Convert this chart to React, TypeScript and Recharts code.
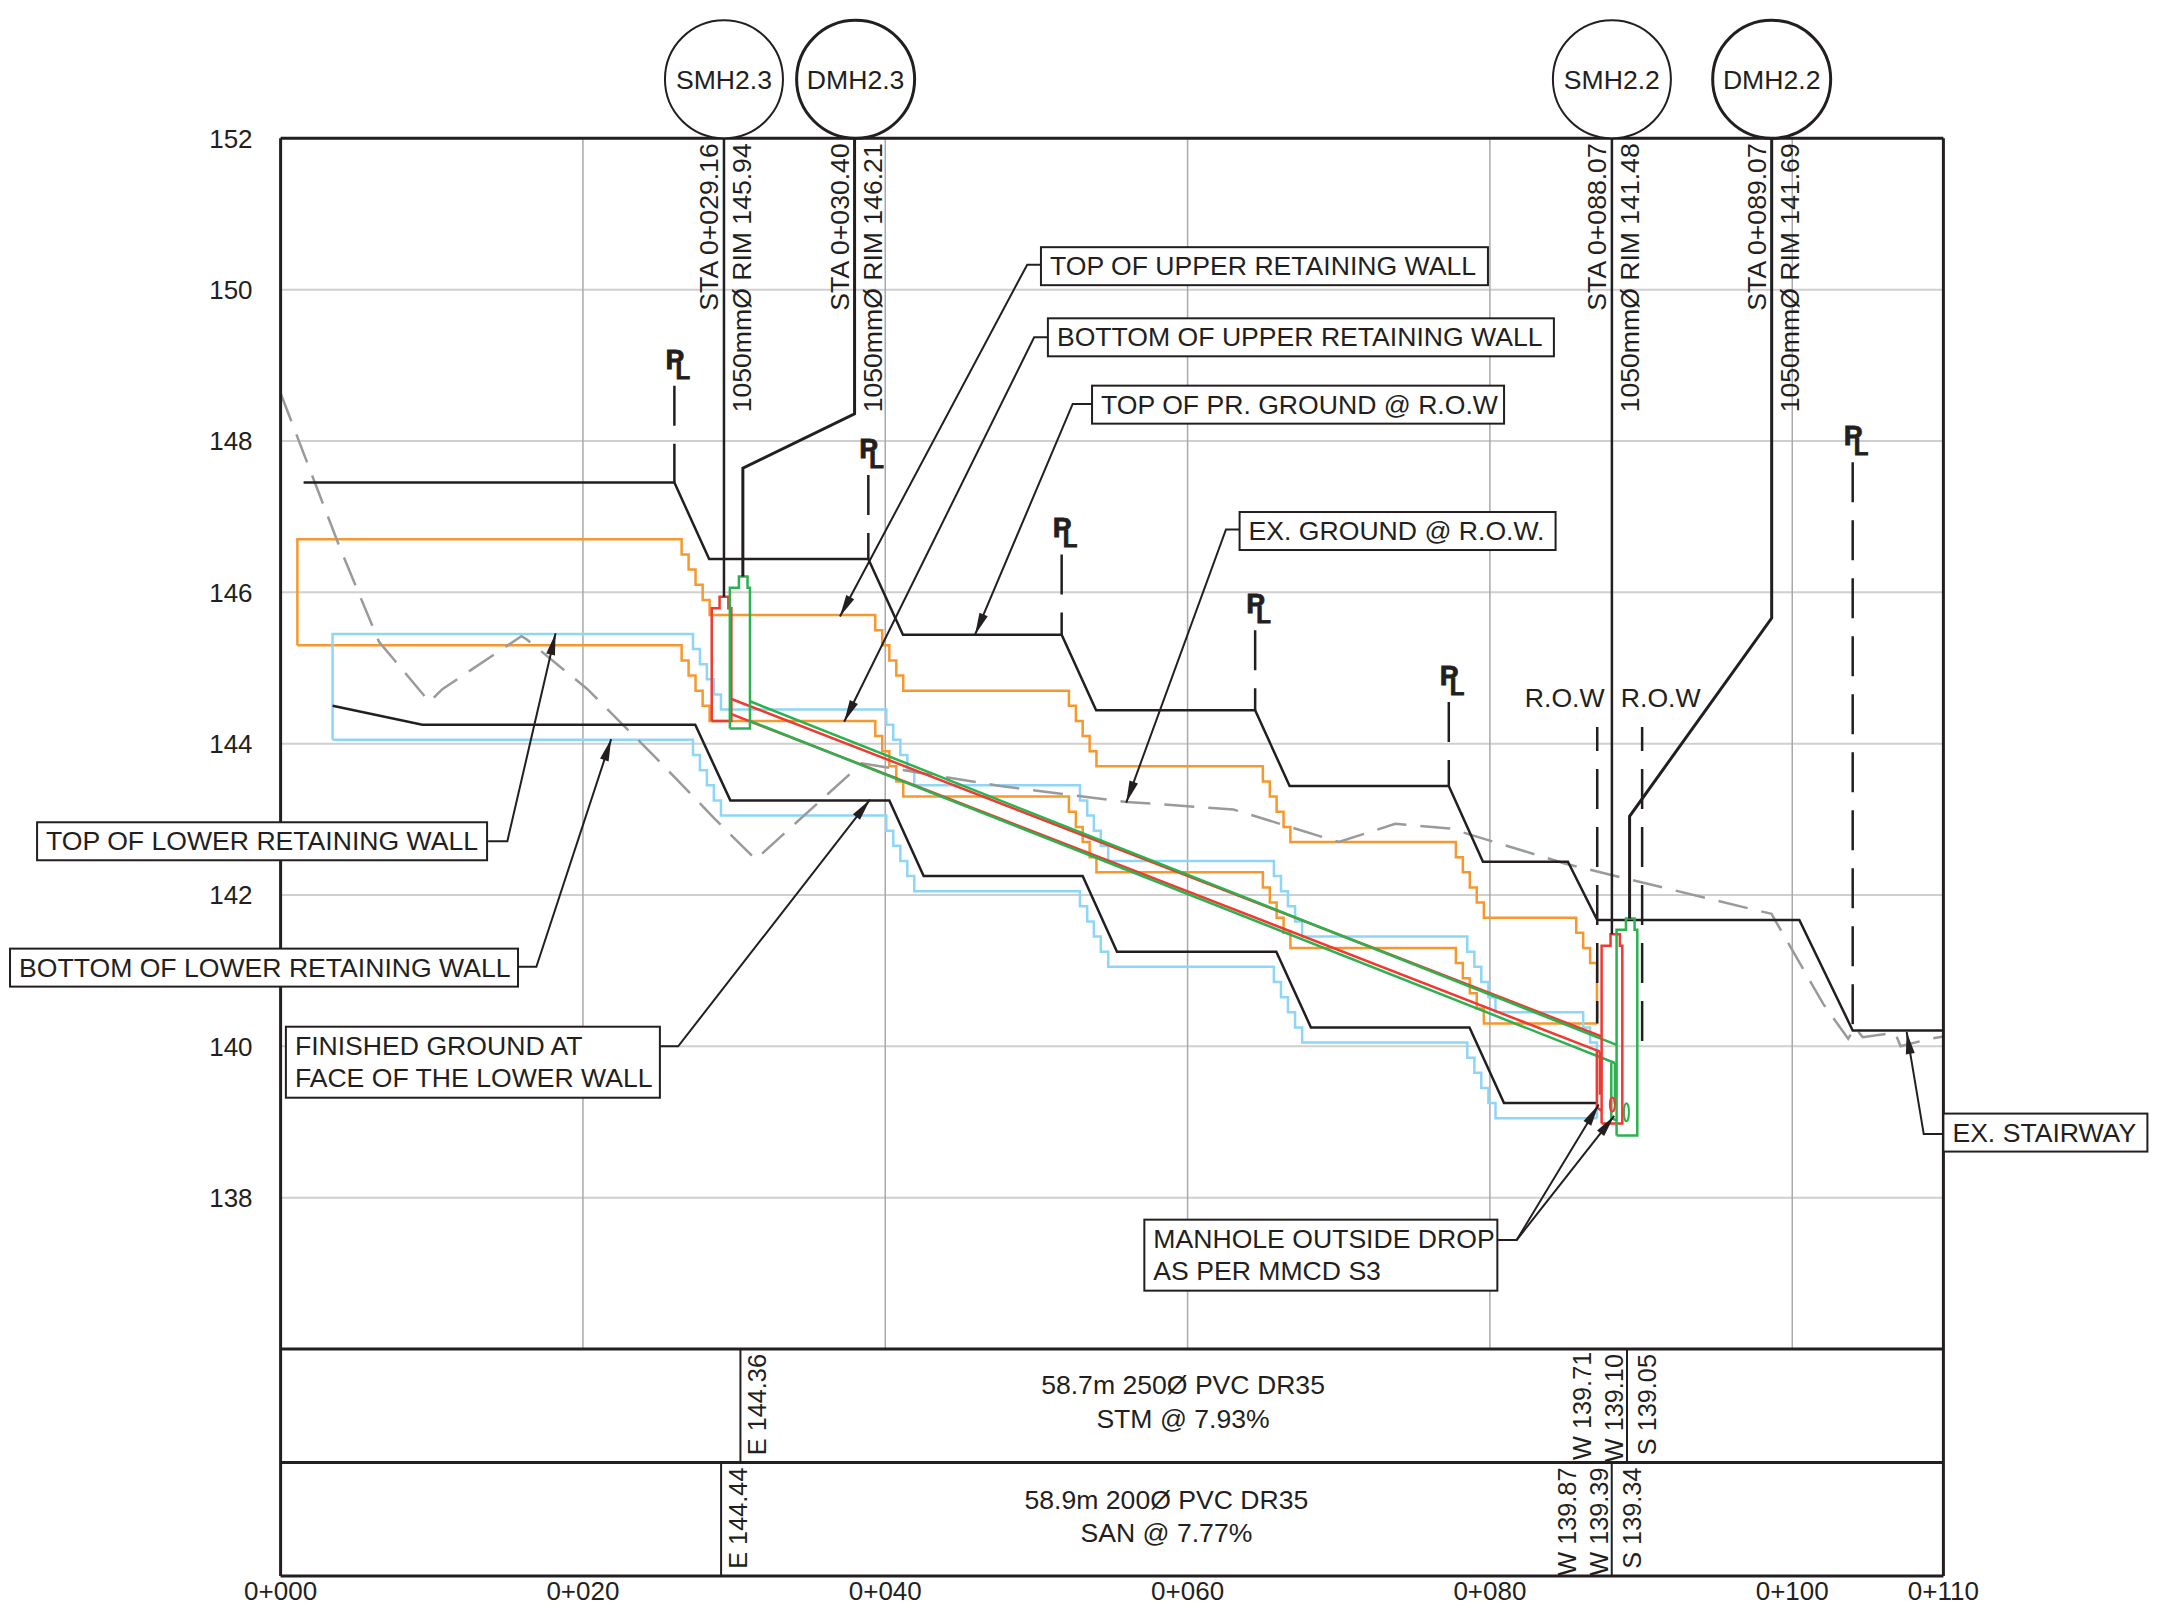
import React from 'react';
import { ComposedChart, Line, XAxis, YAxis, CartesianGrid, ReferenceLine, ReferenceDot } from 'recharts';

type Pt = [number, number];

const FONT = '"Liberation Sans", Arial, sans-serif';
const INK = '#231f20';
const ORANGE = '#f7982f';
const BLUE = '#8ed6f7';
const RED = '#ee3a32';
const GREEN = '#2bb24f';

const stationTicks = [0, 20, 40, 60, 80, 100, 110];
const leftElevationTicks = [138, 140, 142, 144, 146, 148, 150, 152];
const rightElevationTicks = [136, 138, 140, 142, 144, 146, 148, 150, 152];
const stationGrid = [20, 40, 60, 80, 100];
const tableLevels = [152, 136, 134.5, 133];

// finished ground along the property line and at the lower wall
const topOfGround: Pt[] = [
  [1.52, 147.45], [26.05, 147.45], [28.35, 146.44], [38.88, 146.44], [41.17, 145.44], [51.67, 145.44],
  [53.95, 144.44], [64.47, 144.44], [66.75, 143.44], [77.28, 143.44], [79.54, 142.44], [85.16, 142.44],
  [87.1, 141.67], [100.47, 141.67], [104, 140.21], [110, 140.21],
];
const faceOfLowerWall: Pt[] = [
  [3.44, 144.5], [9.38, 144.25], [27.43, 144.25], [29.75, 143.25], [40.27, 143.25], [42.54, 142.25],
  [53.06, 142.25], [55.33, 141.25], [65.87, 141.25], [68.16, 140.25], [78.65, 140.25], [80.93, 139.25], [87.1, 139.25],
];
const exGround: Pt[] = [
  [0, 148.63], [3.9, 146.6], [6.5, 145.35], [9.85, 144.55], [10.7, 144.72], [15.93, 145.42], [16.27, 145.38],
  [20.3, 144.72], [25.04, 143.77], [28.75, 143.0], [31.43, 142.47], [38.44, 143.74], [47.6, 143.44], [55.94, 143.23],
  [63.03, 143.13], [70, 142.7], [73.74, 142.94], [77.34, 142.88], [85.06, 142.41], [87.3, 142.3], [98.63, 141.75],
  [102.05, 140.56], [103.7, 140.1], [104.15, 140.25], [104.66, 140.12], [106.8, 140.18], [107.17, 140.0], [109.1, 140.1], [110, 140.13],
];

const upperWallTop: Pt[] = [
  [1.11, 145.3], [1.11, 146.7], [26.53, 146.7], [26.53, 146.5], [26.99, 146.5], [26.99, 146.3], [27.45, 146.3], [27.45, 146.1],
  [27.92, 146.1], [27.92, 145.9], [28.38, 145.9], [28.38, 145.7], [39.34, 145.7], [39.34, 145.5], [39.8, 145.5], [39.8, 145.3],
  [40.27, 145.3], [40.27, 145.1], [40.73, 145.1], [40.73, 144.9], [41.19, 144.9], [41.19, 144.7], [52.15, 144.7], [52.15, 144.5],
  [52.61, 144.5], [52.61, 144.3], [53.06, 144.3], [53.06, 144.1], [53.52, 144.1], [53.52, 143.9], [53.97, 143.9], [53.97, 143.7],
  [64.98, 143.7], [64.98, 143.5], [65.44, 143.5], [65.44, 143.3], [65.89, 143.3], [65.89, 143.1], [66.35, 143.1], [66.35, 142.9],
  [66.8, 142.9], [66.8, 142.7], [77.75, 142.7], [77.75, 142.5], [78.21, 142.5], [78.21, 142.3], [78.67, 142.3], [78.67, 142.1],
  [79.13, 142.1], [79.13, 141.9], [79.6, 141.9], [79.6, 141.7], [85.71, 141.7], [85.71, 141.5], [86.17, 141.5], [86.17, 141.3],
  [86.63, 141.3], [86.63, 141.1], [87.08, 141.1], [87.08, 140.3],
];
const upperWallBottom: Pt[] = [
  [1.11, 145.3], [26.53, 145.3], [26.53, 145.1], [26.99, 145.1], [26.99, 144.9], [27.45, 144.9], [27.45, 144.7], [27.92, 144.7],
  [27.92, 144.5], [28.38, 144.5], [28.38, 144.3], [39.34, 144.3], [39.34, 144.1], [39.8, 144.1], [39.8, 143.9], [40.27, 143.9],
  [40.27, 143.7], [40.73, 143.7], [40.73, 143.5], [41.19, 143.5], [41.19, 143.3], [52.15, 143.3], [52.15, 143.1], [52.61, 143.1],
  [52.61, 142.9], [53.06, 142.9], [53.06, 142.7], [53.52, 142.7], [53.52, 142.5], [53.97, 142.5], [53.97, 142.3], [64.98, 142.3],
  [64.98, 142.1], [65.44, 142.1], [65.44, 141.9], [65.89, 141.9], [65.89, 141.7], [66.35, 141.7], [66.35, 141.5], [66.8, 141.5],
  [66.8, 141.3], [77.75, 141.3], [77.75, 141.1], [78.21, 141.1], [78.21, 140.9], [78.67, 140.9], [78.67, 140.7], [79.13, 140.7],
  [79.13, 140.5], [79.6, 140.5], [79.6, 140.3], [87.08, 140.3],
];
const lowerWallTop: Pt[] = [
  [3.44, 144.05], [3.44, 145.45], [27.28, 145.45], [27.28, 145.25], [27.74, 145.25], [27.74, 145.05], [28.2, 145.05], [28.2, 144.85],
  [28.66, 144.85], [28.66, 144.65], [29.13, 144.65], [29.13, 144.45], [40.07, 144.45], [40.07, 144.25], [40.53, 144.25], [40.53, 144.05],
  [41, 144.05], [41, 143.85], [41.46, 143.85], [41.46, 143.65], [41.92, 143.65], [41.92, 143.45], [52.88, 143.45], [52.88, 143.25],
  [53.36, 143.25], [53.36, 143.05], [53.8, 143.05], [53.8, 142.85], [54.26, 142.85], [54.26, 142.65], [54.75, 142.65], [54.75, 142.45],
  [65.71, 142.45], [65.71, 142.25], [66.18, 142.25], [66.18, 142.05], [66.64, 142.05], [66.64, 141.85], [67.11, 141.85], [67.11, 141.65],
  [67.58, 141.65], [67.58, 141.45], [78.5, 141.45], [78.5, 141.25], [78.97, 141.25], [78.97, 141.05], [79.43, 141.05], [79.43, 140.85],
  [79.9, 140.85], [79.9, 140.65], [80.37, 140.65], [80.37, 140.45], [86.17, 140.45], [86.17, 140.25], [86.63, 140.25], [86.63, 140.05],
  [87.08, 140.05], [87.08, 139.05],
];
const lowerWallBottom: Pt[] = [
  [3.44, 144.05], [27.28, 144.05], [27.28, 143.85], [27.74, 143.85], [27.74, 143.65], [28.2, 143.65], [28.2, 143.45], [28.66, 143.45],
  [28.66, 143.25], [29.13, 143.25], [29.13, 143.05], [40.07, 143.05], [40.07, 142.85], [40.53, 142.85], [40.53, 142.65], [41, 142.65],
  [41, 142.45], [41.46, 142.45], [41.46, 142.25], [41.92, 142.25], [41.92, 142.05], [52.88, 142.05], [52.88, 141.85], [53.36, 141.85],
  [53.36, 141.65], [53.8, 141.65], [53.8, 141.45], [54.26, 141.45], [54.26, 141.25], [54.75, 141.25], [54.75, 141.05], [65.71, 141.05],
  [65.71, 140.85], [66.18, 140.85], [66.18, 140.65], [66.64, 140.65], [66.64, 140.45], [67.11, 140.45], [67.11, 140.25], [67.58, 140.25],
  [67.58, 140.05], [78.5, 140.05], [78.5, 139.85], [78.97, 139.85], [78.97, 139.65], [79.43, 139.65], [79.43, 139.45], [79.9, 139.45],
  [79.9, 139.25], [80.37, 139.25], [80.37, 139.05], [87.08, 139.05],
];

// sanitary (red) and storm (green) pipes and manholes
const sanPipeTop: Pt[] = [[29.82, 144.59], [87.39, 140.13]];
const sanPipeBottom: Pt[] = [[29.82, 144.39], [87.28, 139.93]];
const stmPipeTop: Pt[] = [[31.05, 144.56], [88.38, 140.02]];
const stmPipeBottom: Pt[] = [[31.05, 144.3], [88.27, 139.78]];
const smh23: Pt[] = [[28.52, 144.3], [28.52, 145.79], [29.04, 145.79], [29.04, 145.94], [29.62, 145.94], [29.62, 145.79], [29.82, 145.79], [29.82, 144.3], [28.52, 144.3]];
const dmh23: Pt[] = [[29.72, 144.2], [29.72, 146.06], [30.32, 146.06], [30.32, 146.21], [30.89, 146.21], [30.89, 146.06], [31.05, 146.06], [31.05, 144.2], [29.72, 144.2]];
const smh22: Pt[] = [[87.39, 138.98], [87.39, 141.33], [87.98, 141.33], [87.98, 141.48], [88.6, 141.48], [88.6, 141.33], [88.76, 141.33], [88.76, 138.98], [87.39, 138.98]];
const dmh22: Pt[] = [[88.38, 138.82], [88.38, 141.54], [89, 141.54], [89, 141.69], [89.57, 141.69], [89.57, 141.54], [89.75, 141.54], [89.75, 138.82], [88.38, 138.82]];
const sanDropOuter: Pt[] = [[87.08, 139.93], [87.08, 139.19], [87.39, 139.15]];
const sanDropInner: Pt[] = [[87.28, 139.93], [87.28, 139.36]];
const stmDropOuter: Pt[] = [[88.03, 139.78], [88.03, 139.05], [88.38, 139.02]];
const stmDropInner: Pt[] = [[88.27, 139.78], [88.27, 139.24]];

// manhole call-out lines coming down from the bubbles
const smh23Callout: Pt[] = [[29.33, 152], [29.33, 145.94]];
const dmh23Callout: Pt[] = [[37.97, 152], [37.97, 148.36], [30.58, 147.64], [30.58, 146.21]];
const smh22Callout: Pt[] = [[88.07, 152], [88.07, 141.48]];
const dmh22Callout: Pt[] = [[98.64, 152], [98.64, 145.66], [89.24, 143.04], [89.24, 141.69]];

// property line and right of way dashes
const propertyLines: Pt[][] = [
  [[26.05, 148.73], [26.05, 147.45]],
  [[38.88, 147.55], [38.88, 146.44]],
  [[51.67, 146.5], [51.67, 145.44]],
  [[64.47, 145.5], [64.47, 144.44]],
  [[77.28, 144.55], [77.28, 143.44]],
  [[104, 147.72], [104, 140.21]],
];
const rowLines: Pt[][] = [
  [[87.1, 144.22], [87.1, 140.3]],
  [[90.07, 144.22], [90.07, 139.99]],
];

// leaders of the boxed notes, the last point carries the arrow
const leaders: Pt[][] = [
  [[50.3, 150.33], [49.39, 150.33], [37.0, 145.68]],
  [[50.76, 149.37], [49.85, 149.37], [37.28, 144.29]],
  [[53.68, 148.49], [52.4, 148.49], [45.94, 145.44]],
  [[63.44, 146.83], [62.54, 146.83], [55.94, 143.22]],
  [[13.73, 142.71], [15.0, 142.71], [18.19, 145.46]],
  [[15.73, 141.05], [16.92, 141.05], [21.87, 144.06]],
  [[25.04, 140.0], [26.3, 140.0], [38.99, 143.26]],
  [[110, 138.84], [108.7, 138.84], [107.57, 140.19]],
  [[80.49, 137.44], [81.77, 137.44], [87.2, 139.23]],
  [[81.77, 137.44], [88.22, 139.08]],
];

const tableDividers: Pt[][] = [
  [[30.42, 136], [30.42, 134.5]],
  [[89.07, 136], [89.07, 134.5]],
  [[29.14, 134.5], [29.14, 133]],
  [[88.06, 134.5], [88.06, 133]],
];

const bubbles = [
  { name: 'SMH2.3', station: 29.33, heavy: false },
  { name: 'DMH2.3', station: 38.04, heavy: true },
  { name: 'SMH2.2', station: 88.07, heavy: false },
  { name: 'DMH2.2', station: 98.64, heavy: true },
];
const verticalNotes = [
  { text: 'STA 0+029.16', station: 29.33, level: 152, dx: -6, size: 26.6 },
  { text: '1050mmØ RIM 145.94', station: 29.33, level: 152, dx: 27, size: 26.6 },
  { text: 'STA 0+030.40', station: 37.97, level: 152, dx: -6, size: 26.6 },
  { text: '1050mmØ RIM 146.21', station: 37.97, level: 152, dx: 27, size: 26.6 },
  { text: 'STA 0+088.07', station: 88.07, level: 152, dx: -6, size: 26.6 },
  { text: '1050mmØ RIM 141.48', station: 88.07, level: 152, dx: 27, size: 26.6 },
  { text: 'STA 0+089.07', station: 98.64, level: 152, dx: -6, size: 26.6 },
  { text: '1050mmØ RIM 141.69', station: 98.64, level: 152, dx: 27, size: 26.6 },
  { text: 'E 144.36', station: 30.42, level: 136, dx: 26, size: 25.3 },
  { text: 'W 139.71', station: 89.07, level: 136.03, dx: -36, size: 25.3 },
  { text: 'W 139.10', station: 89.07, level: 136, dx: -4, size: 25.3 },
  { text: 'S 139.05', station: 89.07, level: 136, dx: 29, size: 25.3 },
  { text: 'E 144.44', station: 29.14, level: 134.5, dx: 26, size: 25.3 },
  { text: 'W 139.87', station: 88.06, level: 134.5, dx: -36, size: 25.3 },
  { text: 'W 139.39', station: 88.06, level: 134.5, dx: -4, size: 25.3 },
  { text: 'S 139.34', station: 88.06, level: 134.5, dx: 29, size: 25.3 },
];
const pipeNotes = [
  { text: '58.7m 250Ø PVC DR35', station: 59.7, level: 135.4 },
  { text: 'STM @ 7.93%', station: 59.7, level: 134.96 },
  { text: '58.9m 200Ø PVC DR35', station: 58.6, level: 133.88 },
  { text: 'SAN @ 7.77%', station: 58.6, level: 133.45 },
];
const rowNotes = [
  { text: 'R.O.W', station: 84.95, level: 144.48 },
  { text: 'R.O.W', station: 91.3, level: 144.48 },
];
const boxedNotes = [
  { lines: ['TOP OF UPPER RETAINING WALL'], station: 50.3, level: 150.31, w: 447 },
  { lines: ['BOTTOM OF UPPER RETAINING WALL'], station: 50.76, level: 149.37, w: 506 },
  { lines: ['TOP OF PR. GROUND @ R.O.W'], station: 53.68, level: 148.48, w: 412 },
  { lines: ['EX. GROUND @ R.O.W.'], station: 63.44, level: 146.81, w: 316 },
  { lines: ['TOP OF LOWER RETAINING WALL'], station: -16.11, level: 142.71, w: 450 },
  { lines: ['BOTTOM OF LOWER RETAINING WALL'], station: -17.9, level: 141.04, w: 508 },
  { lines: ['FINISHED GROUND AT', 'FACE OF THE LOWER WALL'], station: 0.35, level: 139.79, w: 374 },
  { lines: ['EX. STAIRWAY'], station: 110, level: 138.86, w: 204 },
  { lines: ['MANHOLE OUTSIDE DROP', 'AS PER MMCD S3'], station: 57.14, level: 137.24, w: 353 },
];
const dropOvals = [
  { station: 88.1, level: 139.23, color: RED, ry: 7 },
  { station: 89.03, level: 139.13, color: GREEN, ry: 9 },
];

const rows = (pts: Pt[]) => pts.map(([x, y]) => ({ x, y }));
const formatStation = (v: number) => `0+${String(v).padStart(3, '0')}`;

const ArrowDot = (props: any) => {
  const { cx, cy, index, points } = props;
  if (!points || index !== points.length - 1) return <g key={index} />;
  const prev = points[index - 1];
  const angle = (Math.atan2(cy - prev.y, cx - prev.x) * 180) / Math.PI;
  return <polygon key={index} points="0,0 -22,-4.5 -22,4.5" fill={INK} transform={`translate(${cx},${cy}) rotate(${angle})`} />;
};

const Series = (key: string, pts: Pt[], stroke: string, strokeWidth: number, extra: any = {}) => (
  <Line
    key={key}
    data={rows(pts)}
    dataKey="y"
    type="linear"
    stroke={stroke}
    strokeWidth={strokeWidth}
    dot={false}
    activeDot={false}
    legendType="none"
    isAnimationActive={false}
    {...extra}
  />
);

const Note = (key: string, station: number, level: number, shape: (cx: number, cy: number) => React.ReactElement) => (
  <ReferenceDot
    key={key}
    x={station}
    y={level}
    r={0}
    ifOverflow="visible"
    shape={(p: any) => shape(p.cx, p.cy)}
  />
);

const App = () => {
  const textProps = { fontFamily: FONT, fontSize: 26.6, fill: INK };
  const tickStyle = { fontFamily: FONT, fontSize: 26, fill: INK };
  return (
    <div style={{ position: 'absolute', left: 0, top: 0, width: 2162, height: 1619, background: '#fff' }}>
      <ComposedChart width={2162} height={1619} margin={{ top: 138.3, right: 138.6, bottom: 3, left: 200.6 }}>
        <CartesianGrid vertical={false} stroke="#cfcfcf" strokeWidth={2} />
        <XAxis
          dataKey="x"
          type="number"
          domain={[0, 110]}
          ticks={stationTicks}
          interval={0}
          tickFormatter={formatStation}
          axisLine={false}
          tickLine={false}
          tickSize={0}
          tickMargin={6}
          height={40}
          tick={tickStyle}
        />
        <YAxis
          type="number"
          domain={[133, 152]}
          ticks={leftElevationTicks}
          interval={0}
          width={80}
          axisLine={false}
          tickLine={false}
          tickSize={0}
          tickMargin={28}
          tick={tickStyle}
        />
        <YAxis
          yAxisId="right"
          orientation="right"
          type="number"
          domain={[133, 152]}
          ticks={rightElevationTicks}
          interval={0}
          width={80}
          axisLine={false}
          tickLine={false}
          tickSize={0}
          tickMargin={15}
          tick={tickStyle}
        />

        {stationGrid.map((st) => (
          <ReferenceLine key={`grid-${st}`} segment={[{ x: st, y: 136 }, { x: st, y: 152 }]} stroke="#a9a9ad" strokeWidth={1.5} />
        ))}

        {Series('upper-top', upperWallTop, ORANGE, 2.5)}
        {Series('upper-bottom', upperWallBottom, ORANGE, 2.5)}
        {Series('lower-top', lowerWallTop, BLUE, 2.5)}
        {Series('lower-bottom', lowerWallBottom, BLUE, 2.5)}
        {Series('ex-ground', exGround, '#9a9a9c', 2.5, { strokeDasharray: '30 14' })}
        {Series('top-ground', topOfGround, INK, 2.5)}
        {Series('face-wall', faceOfLowerWall, INK, 2.5)}

        {propertyLines.map((pts, i) => Series(`pl-${i}`, pts, INK, 2.5, { strokeDasharray: '40 18' }))}
        {rowLines.map((pts, i) => Series(`row-${i}`, pts, INK, 2.5, { strokeDasharray: '40 18', strokeDashoffset: 16 }))}

        {Series('san-top', sanPipeTop, RED, 2.5)}
        {Series('san-bottom', sanPipeBottom, RED, 2.5)}
        {Series('stm-top', stmPipeTop, GREEN, 2.5)}
        {Series('stm-bottom', stmPipeBottom, GREEN, 2.5)}
        {Series('smh23', smh23, RED, 2.5)}
        {Series('smh22', smh22, RED, 2.5)}
        {Series('dmh23', dmh23, GREEN, 2.5)}
        {Series('dmh22', dmh22, GREEN, 2.5)}
        {Series('san-drop-a', sanDropOuter, RED, 2.5)}
        {Series('san-drop-b', sanDropInner, RED, 2.5)}
        {Series('stm-drop-a', stmDropOuter, GREEN, 2.5)}
        {Series('stm-drop-b', stmDropInner, GREEN, 2.5)}

        {Series('smh23-call', smh23Callout, INK, 2.5)}
        {Series('dmh23-call', dmh23Callout, INK, 3)}
        {Series('smh22-call', smh22Callout, INK, 2.5)}
        {Series('dmh22-call', dmh22Callout, INK, 3)}
        {tableDividers.map((pts, i) => Series(`table-${i}`, pts, INK, 2))}
        {leaders.map((pts, i) =>
          Series(`leader-${i}`, pts, INK, 2, { dot: (p: any) => <ArrowDot {...p} /> }),
        )}

        <ReferenceLine x={0} stroke={INK} strokeWidth={3} ifOverflow="visible" />
        <ReferenceLine x={110} stroke={INK} strokeWidth={3} ifOverflow="visible" />
        {tableLevels.map((lv) => (
          <ReferenceLine key={`level-${lv}`} y={lv} stroke={INK} strokeWidth={3} ifOverflow="visible" />
        ))}

        {dropOvals.map((o, i) =>
          Note(`oval-${i}`, o.station, o.level, (cx, cy) => (
            <ellipse cx={cx} cy={cy} rx={2.5} ry={o.ry} fill="none" stroke={o.color} strokeWidth={2} />
          )),
        )}

        {bubbles.map((b) =>
          Note(`bubble-${b.name}`, b.station, 152, (cx, cy) => (
            <g>
              <circle cx={cx} cy={cy - 59} r={59} fill="#fff" stroke={INK} strokeWidth={b.heavy ? 3 : 2} />
              <text x={cx} y={cy - 49} textAnchor="middle" {...textProps}>{b.name}</text>
            </g>
          )),
        )}

        {propertyLines.map((pts, i) =>
          Note(`pl-mark-${i}`, pts[0][0], pts[0][1], (cx, cy) => (
            <g fontFamily={FONT} fontWeight="bold" fill={INK} stroke={INK} strokeWidth={0.8}>
              <text x={cx - 9} y={cy - 17} fontSize={28}>P</text>
              <text x={cx + 1} y={cy - 7} fontSize={24}>L</text>
            </g>
          )),
        )}

        {verticalNotes.map((n) =>
          Note(`v-${n.text}`, n.station, n.level, (cx, cy) => (
            <text transform={`translate(${cx + n.dx},${cy + 5}) rotate(-90)`} textAnchor="end" {...textProps} fontSize={n.size}>{n.text}</text>
          )),
        )}
        {pipeNotes.map((n) =>
          Note(`p-${n.text}`, n.station, n.level, (cx, cy) => (
            <text x={cx} y={cy} textAnchor="middle" {...textProps}>{n.text}</text>
          )),
        )}
        {rowNotes.map((n, i) =>
          Note(`r-${i}`, n.station, n.level, (cx, cy) => (
            <text x={cx} y={cy} textAnchor="middle" {...textProps}>{n.text}</text>
          )),
        )}
        {boxedNotes.map((n) => {
          const h = n.lines.length > 1 ? 71 : 38;
          return Note(`b-${n.lines[0]}`, n.station, n.level, (cx, cy) => (
            <g>
              <rect x={cx} y={cy - h / 2} width={n.w} height={h} fill="#fff" stroke={INK} strokeWidth={2} />
              {n.lines.map((line, i) => (
                <text key={line} x={cx + 9} y={cy - h / 2 + 28 + i * 32} {...textProps}>{line}</text>
              ))}
            </g>
          ));
        })}
      </ComposedChart>
    </div>
  );
};

export default App;
